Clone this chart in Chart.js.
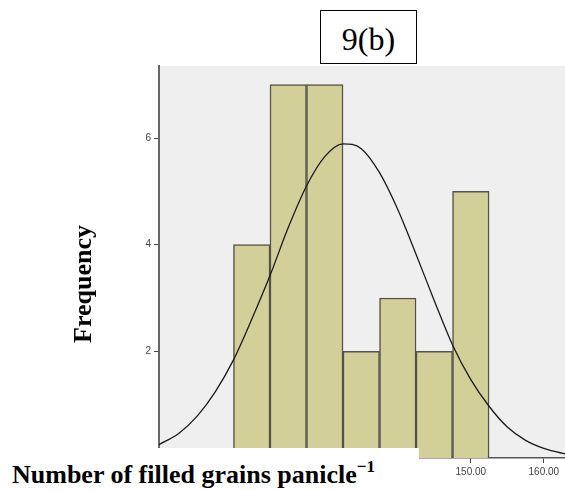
<!DOCTYPE html>
<html>
<head>
<meta charset="utf-8">
<script src="https://cdn.jsdelivr.net/npm/chart.js@4.4.0/dist/chart.umd.min.js"></script>
<style>
  body { margin: 0; background: #fff; }
  #wrap { position: relative; width: 565px; height: 490px; overflow: hidden; }
  #hist { position: absolute; left: 0; top: 0; }
  .serif { font-family: "Liberation Serif", "Times New Roman", serif; color: #000; }
  #panel-box {
    position: absolute; left: 320px; top: 10px; width: 95px; height: 52px;
    border: 1.5px solid #000; background: #fff;
  }
  #panel-label { position: absolute; left: 0; right: 0; top: 12px; text-align: center; font-size: 32px; line-height: 32px; }
  #ylabel {
    position: absolute; left: 83px; top: 284px; font-size: 26px; font-weight: bold; line-height: 26px;
    white-space: nowrap; transform: translate(-50%, -50%) rotate(-90deg);
  }
  #cover { position: absolute; left: 0; top: 448px; width: 419px; height: 42px; background: #fff; }
  #xlabel { position: absolute; left: 12px; top: 454px; font-size: 26px; font-weight: bold; line-height: 26px; white-space: nowrap; }
  #xlabel span { font-size: 17px; vertical-align: 11px; }
</style>
</head>
<body>
<div id="wrap">
  <canvas id="hist" width="565" height="490"></canvas>
  <div id="panel-box"><div id="panel-label" class="serif">9(b)</div></div>
  <div id="ylabel" class="serif">Frequency</div>
  <div id="cover"></div>
  <div id="xlabel" class="serif">Number of filled grains panicle<span>−1</span></div>
</div>
<script>
// histogram bins (centres, width 5)
const binCenters = [120, 125, 130, 135, 140, 145, 150];
const binCounts = [4, 7, 7, 2, 3, 2, 5];

// normal curve
const curveX = [107.3, 110, 112.5, 115, 117.5, 120, 122.5, 125, 127.5, 130, 132.5, 135, 137.5, 140, 142.5, 145, 147.5, 150, 152.5, 155, 157.5, 160, 162.5, 162.9];
const curveY = [0.25, 0.46, 0.78, 1.24, 1.84, 2.60, 3.42, 4.32, 5.10, 5.65, 5.89, 5.80, 5.35, 4.66, 3.82, 2.95, 2.12, 1.47, 0.97, 0.58, 0.33, 0.18, 0.09, 0.08];

const xTicks = [110, 120, 130, 140, 150, 160];
const yTicks = [2, 4, 6];
const xMin = 107.3;
const xMax = 162.9;
const yMax = 7.35;

const plotBg = {
  id: "plotBg",
  beforeDraw(chart) {
    const a = chart.chartArea;
    const ctx = chart.ctx;
    ctx.save();
    ctx.fillStyle = "#efefef";
    ctx.fillRect(a.left, a.top, a.right - a.left, a.bottom - a.top);
    ctx.restore();
  },
};

const tickFont = { family: "'Liberation Sans', Arial, sans-serif", size: 10 };

const chart = new Chart(document.getElementById("hist"), {
  type: "bar",
  data: {
    datasets: [
      {
        type: "line",
        data: curveX.map((x, i) => ({ x, y: curveY[i] })),
        borderColor: "#1a1a1a",
        borderWidth: 1.3,
        pointRadius: 0,
        cubicInterpolationMode: "monotone",
        fill: false,
        order: 0,
      },
      {
        type: "bar",
        data: binCenters.map((x, i) => ({ x, y: binCounts[i] })),
        backgroundColor: "#d3cf99",
        borderColor: "#54524a",
        borderWidth: 1.5,
        barPercentage: 1,
        categoryPercentage: 1,
        order: 1,
      },
    ],
  },
  options: {
    responsive: false,
    animation: false,
    devicePixelRatio: 1,
    layout: { padding: { left: 0, top: 66, right: 0, bottom: 0 } },
    plugins: {
      legend: { display: false },
      tooltip: { enabled: false },
    },
    scales: {
      x: {
        type: "linear",
        offset: false,
        min: xMin,
        max: xMax,
        afterBuildTicks: (axis) => {
          axis.ticks = xTicks.map((v) => ({ value: v }));
        },
        afterFit: (scale) => {
          scale.height = 32;
        },
        ticks: {
          font: tickFont,
          color: "#444",
          padding: 3,
          maxRotation: 0,
          callback: (v) => Number(v).toFixed(2),
        },
        grid: { offset: false, drawOnChartArea: false, drawTicks: true, tickLength: 5, color: "#444" },
        border: { display: true, color: "#555", width: 1.5 },
      },
      y: {
        min: 0,
        max: yMax,
        afterBuildTicks: (axis) => {
          axis.ticks = yTicks.map((v) => ({ value: v }));
        },
        afterFit: (scale) => {
          scale.width = 159;
        },
        ticks: { font: tickFont, color: "#444", padding: 3 },
        grid: { drawOnChartArea: false, drawTicks: true, tickLength: 5, color: "#444" },
        border: { display: true, color: "#666", width: 2 },
      },
    },
  },
  plugins: [plotBg],
});
</script>
</body>
</html>
